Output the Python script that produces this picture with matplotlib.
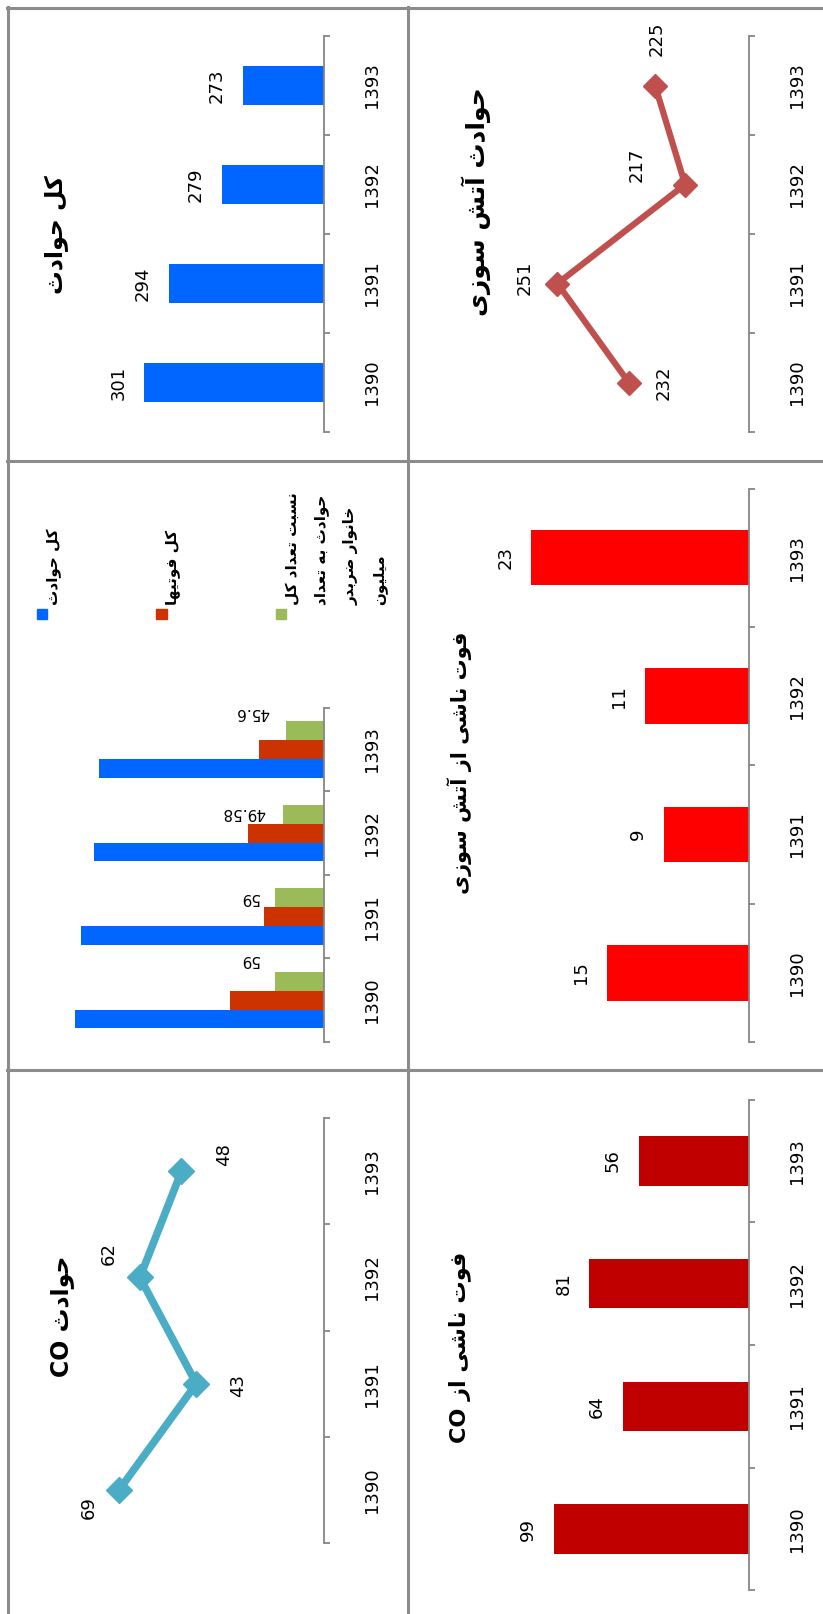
import matplotlib
matplotlib.use('Agg')
import matplotlib.pyplot as plt
from matplotlib.patches import Rectangle
from matplotlib.lines import Line2D

plt.rcParams['font.family'] = ['DejaVu Sans']

years = ['1390', '1391', '1392', '1393']
total_accidents = [301, 294, 279, 273]
fire_accidents = [232, 251, 217, 225]
total_deaths = [114, 73, 92, 79]
ratio_per_million = [59, 59, 49.58, 45.6]
ratio_labels = ['59', '59', '49.58', '45.6']
fire_deaths = [15, 9, 11, 23]
co_accidents = [69, 43, 62, 48]
co_deaths = [99, 64, 81, 56]

title_total = 'کل حوادث'
title_fire = 'حوادث آتش سوزی'
title_fire_deaths = 'فوت ناشی از آتش سوزی'
title_co = 'حوادث CO'
title_co_deaths = 'فوت ناشی از CO'
legend_labels = ['کل حوادث', 'کل فوتیها',
                 'نسبت تعداد کل\nحوادث به تعداد\nخانوار ضربدر\nمیلیون']

# matplotlib does not join arabic letters, so pick the presentation forms by hand
# (isolated, final, initial, medial)
FORMS = {
    'ا': ('\uFE8D', '\uFE8E', None, None),
    'آ': ('\uFE81', '\uFE82', None, None),
    'ب': ('\uFE8F', '\uFE90', '\uFE91', '\uFE92'),
    'ت': ('\uFE95', '\uFE96', '\uFE97', '\uFE98'),
    'ث': ('\uFE99', '\uFE9A', '\uFE9B', '\uFE9C'),
    'ح': ('\uFEA1', '\uFEA2', '\uFEA3', '\uFEA4'),
    'خ': ('\uFEA5', '\uFEA6', '\uFEA7', '\uFEA8'),
    'د': ('\uFEA9', '\uFEAA', None, None),
    'ر': ('\uFEAD', '\uFEAE', None, None),
    'ز': ('\uFEAF', '\uFEB0', None, None),
    'س': ('\uFEB1', '\uFEB2', '\uFEB3', '\uFEB4'),
    'ش': ('\uFEB5', '\uFEB6', '\uFEB7', '\uFEB8'),
    'ض': ('\uFEBD', '\uFEBE', '\uFEBF', '\uFEC0'),
    'ع': ('\uFEC9', '\uFECA', '\uFECB', '\uFECC'),
    'ف': ('\uFED1', '\uFED2', '\uFED3', '\uFED4'),
    'ل': ('\uFEDD', '\uFEDE', '\uFEDF', '\uFEE0'),
    'م': ('\uFEE1', '\uFEE2', '\uFEE3', '\uFEE4'),
    'ن': ('\uFEE5', '\uFEE6', '\uFEE7', '\uFEE8'),
    'ه': ('\uFEE9', '\uFEEA', '\uFEEB', '\uFEEC'),
    'و': ('\uFEED', '\uFEEE', None, None),
    'ک': ('\uFB8E', '\uFB8F', '\uFB90', '\uFB91'),
    'ی': ('\uFBFC', '\uFBFD', '\uFBFE', '\uFBFF'),
}


def shape_word(w):
    out = []
    for i, c in enumerate(w):
        f = FORMS.get(c)
        if f is None:
            out.append(c)
            continue
        prev = FORMS.get(w[i - 1]) if i > 0 else None
        nxt = FORMS.get(w[i + 1]) if i + 1 < len(w) else None
        join_prev = prev is not None and prev[2] is not None
        join_next = f[2] is not None and nxt is not None
        if join_prev and join_next:
            out.append(f[3])
        elif join_prev:
            out.append(f[1])
        elif join_next:
            out.append(f[2])
        else:
            out.append(f[0])
    return ''.join(reversed(out))


def rtl(text):
    lines = []
    for line in text.split('\n'):
        words = line.split(' ')
        lines.append(' '.join(shape_word(w) if any(ch in FORMS for ch in w) else w
                              for w in reversed(words)))
    return '\n'.join(lines)


W, H = 800, 1569
GRAY = '#868686'
fig = plt.figure(figsize=(8.23, 16.14), dpi=100)


def panel(left, right, top, bottom, vmax, vmin):
    ax = fig.add_axes([left / W, 1 - bottom / H, (right - left) / W, (bottom - top) / H])
    ax.patch.set_alpha(0)
    for s in ['left', 'top', 'bottom']:
        ax.spines[s].set_visible(False)
    ax.spines['right'].set_color(GRAY)
    ax.spines['right'].set_linewidth(1.3)
    ax.set_xlim(vmax, vmin)
    ax.set_xticks([])
    ax.set_ylim(-0.5, 3.5)
    ax.yaxis.tick_right()
    ax.set_yticks(range(4), years, rotation=90, fontsize=13, va='center')
    ax.set_yticks([-0.5, 0.5, 1.5, 2.5, 3.5], minor=True)
    ax.tick_params(axis='y', which='major', length=0, pad=28, colors='black')
    ax.tick_params(axis='y', which='minor', length=4, color=GRAY, width=1.3)
    return ax


def bar_labels(ax, values):
    for i, v in enumerate(values):
        ax.annotate(str(v), (v, i), xytext=(-18.5, 0), textcoords='offset points',
                    rotation=90, ha='center', va='center', fontsize=13)


def title(x, y, text, size):
    fig.text(x / W, 1 - y / H, rtl(text), rotation=90, ha='center', va='center',
             fontsize=size, fontweight='bold')


# frame lines of the table
for x in [8, 397]:
    fig.add_artist(Line2D([x / W, x / W], [0, 1 - 7 / H], color='#8c8c8c', lw=2.2))
for y in [8, 448, 1040]:
    fig.add_artist(Line2D([7 / W, 1], [1 - y / H, 1 - y / H], color='#8c8c8c', lw=2.2))

pos = list(range(4))

# total accidents
ax1 = panel(109, 315, 35, 420, 310, 250)
ax1.barh(pos, total_accidents, height=0.4, color='#0066FF')
bar_labels(ax1, total_accidents)
title(55, 228, title_total, 17)

# fire accidents (line)
ax2 = panel(509, 728, 35, 420, 260, 200)
ax2.plot(fire_accidents, pos, color='#C0504D', lw=4.5, marker='D', ms=12,
         clip_on=False, zorder=3)
fire_offsets = [(34, 0), (-32, -6), (-47, -19), (2, -45)]
for i, v in enumerate(fire_accidents):
    dx, dy = fire_offsets[i]
    ax2.annotate(str(v), (v, i), xytext=(dx * 0.741, -dy * 0.741), textcoords='offset points',
                 rotation=90, ha='center', va='center', fontsize=13)
title(463, 196, title_fire, 18)

# clustered bars with legend
ax3 = panel(34, 315, 688, 1013, 350, 0)
series = [(total_accidents, '#0066FF', -0.225), (total_deaths, '#CC3300', 0.0),
          (ratio_per_million, '#9BBB59', 0.225)]
for vals, col, off in series:
    ax3.barh([p + off for p in pos], vals, height=0.225, color=col)
ratio_offsets = [(-25, -21), (-25, 0), (-38, -2), (-33, -18)]
for i, v in enumerate(ratio_per_million):
    dx, dy = ratio_offsets[i]
    ax3.annotate(ratio_labels[i], (v, i + 0.225), xytext=(dx * 0.741, -dy * 0.741),
                 textcoords='offset points', rotation=180, ha='center', va='center',
                 fontsize=11)
for k, (lab, (vals, col, off)) in enumerate(zip(legend_labels, series)):
    lx = [41, 157, 273][k]
    fig.add_artist(Rectangle(((lx - 5) / W, 1 - 602 / H), 10 / W, 10 / H,
                             transform=fig.transFigure, color=col))
    fig.text((lx + 4) / W, 1 - 588 / H, rtl(lab), rotation=90, rotation_mode='anchor',
             ha='left', va='top', fontsize=11, fontweight='bold', linespacing=2.1)

# fire deaths
ax4 = panel(498, 728, 475, 1013, 25, 0)
ax4.barh(pos, fire_deaths, height=0.4, color='#FF0000')
bar_labels(ax4, fire_deaths)
title(447, 742, title_fire_deaths, 15)

# CO accidents (line)
ax5 = panel(84, 315, 1087, 1500, 80, 0)
ax5.plot(co_accidents, pos, color='#4BACC6', lw=5.5, marker='D', ms=13,
         clip_on=False, zorder=3)
co_offsets = [(-29, 17), (41, 2), (-30, -23), (41, -16)]
for i, v in enumerate(co_accidents):
    dx, dy = co_offsets[i]
    ax5.annotate(str(v), (v, i), xytext=(dx * 0.741, -dy * 0.741), textcoords='offset points',
                 rotation=90, ha='center', va='center', fontsize=13)
title(60, 1280, title_co, 17)

# CO deaths
ax6 = panel(498, 728, 1069, 1546, 120, 0)
ax6.barh(pos, co_deaths, height=0.4, color='#C00000')
bar_labels(ax6, co_deaths)
title(447, 1310, title_co_deaths, 16)

fig.savefig('out.png', dpi=100)
